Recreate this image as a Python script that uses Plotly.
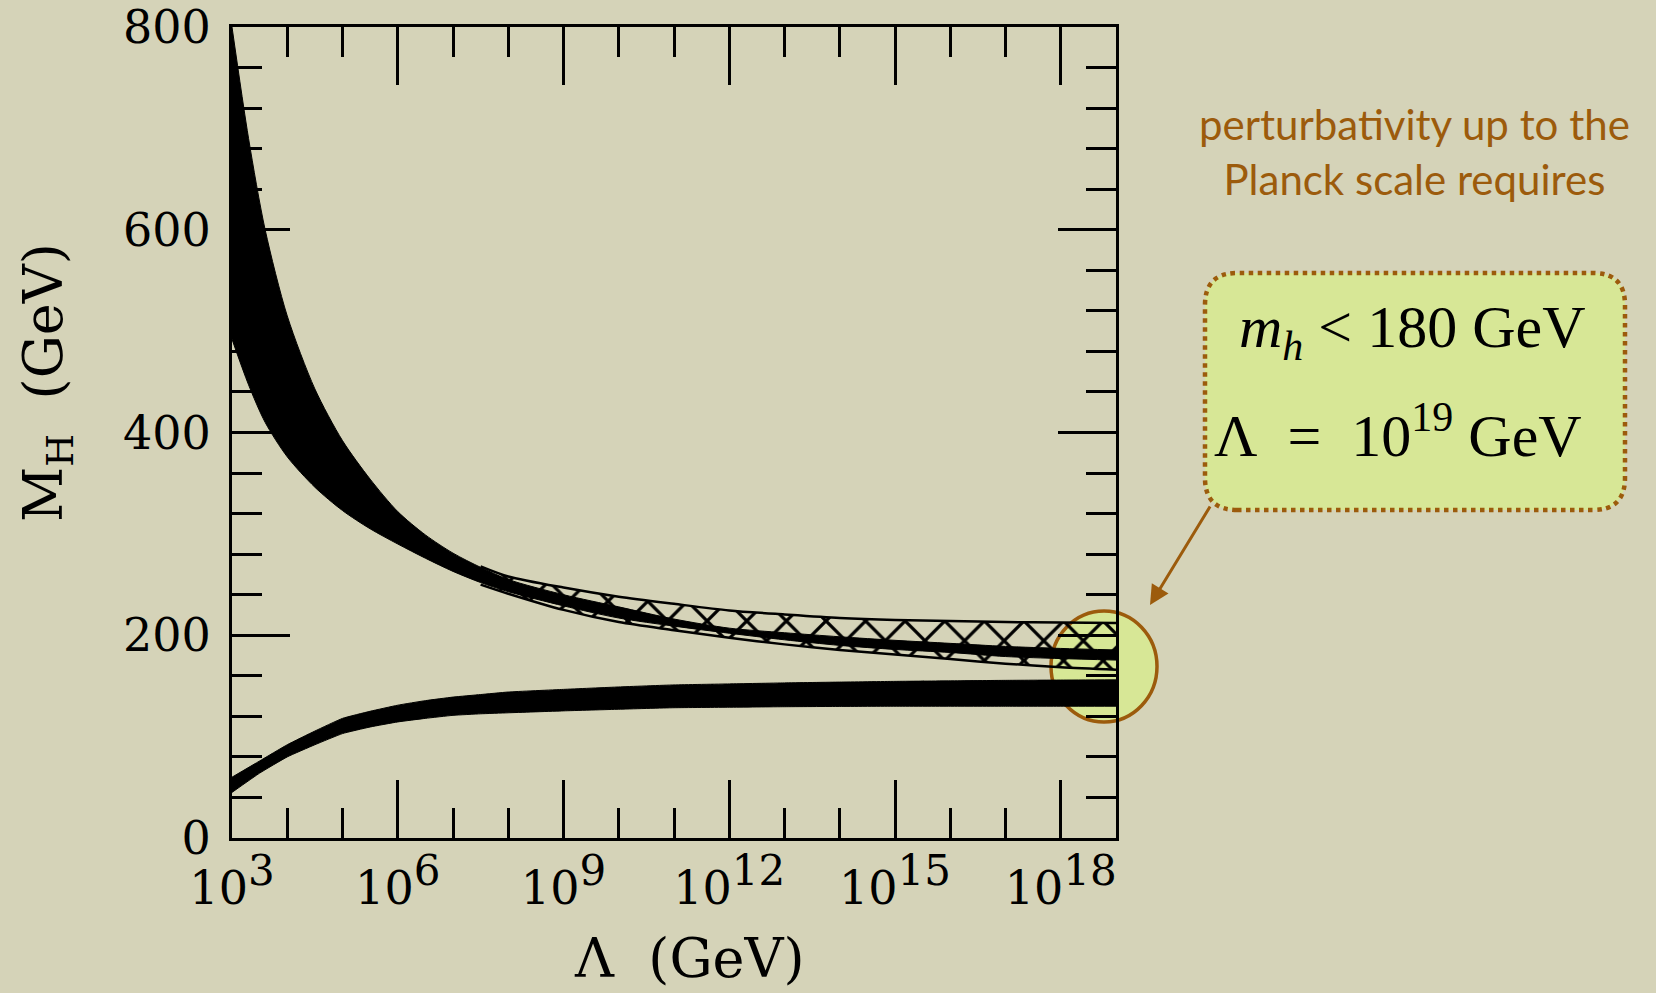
import plotly.graph_objects as go

# ---------------- data ----------------
# log10(Lambda / GeV) grid for the upper (triviality) band
up_exp = [3, 3.3, 3.6, 4.0, 4.5, 5.0, 5.5, 6.0, 6.5, 7.0, 7.5, 8.0, 9.0, 10, 11, 12, 13, 14, 15, 16, 17, 18, 19]
up_top = [800, 690, 600, 515, 443, 392, 354, 322, 299, 281, 267, 255, 240, 228, 216, 207, 202.5, 198.5, 195, 192, 189, 187, 185.5]
up_bot = [492, 447, 410, 376, 346, 323, 305, 290, 276, 263, 252, 243, 229, 217, 209, 202, 195.5, 190, 186, 183, 179, 177, 175.5]

# cross-hatched band around the upper bound
hatch_exp = [7.5, 8.0, 9.0, 10, 11, 12, 13, 14, 15, 16, 17, 18, 19]
hatch_top = [268, 258, 247, 238, 231, 224.5, 220.5, 217, 215, 214, 213, 212.5, 212]
hatch_bot = [250, 241, 225, 213, 205, 197.5, 191, 185.5, 181, 176.5, 172, 168.5, 166]

# lower (vacuum stability) band
lo_exp = [3, 3.5, 4.0, 4.5, 5.0, 5.5, 6.0, 6.5, 7.0, 7.5, 8.0, 9.0, 10, 11, 12, 13, 14, 15, 16, 17, 18, 19]
lo_top = [60, 76, 92, 105.5, 118, 125, 131, 135.5, 139, 141.5, 144, 146.6, 149, 151, 152, 153, 153.8, 154.5, 155, 155.5, 155.8, 156]
lo_bot = [45, 64, 80, 92, 103, 109.5, 114.5, 118, 121, 122.5, 123.5, 125.4, 127, 128.5, 129, 129.5, 129.8, 130, 130, 130, 130, 130]

major_exp = [3, 6, 9, 12, 15, 18]
minor_exp = [4, 5, 7, 8, 10, 11, 13, 14, 16, 17]
y_major = [0, 200, 400, 600, 800]

# ---------------- styling ----------------
BG = "#d5d3b8"
GREEN = "#d7e796"
BROWN = "#9c5b0c"
AXFONT = "DejaVu Serif"

def lam(e):
    return [10 ** v for v in e]

fig = go.Figure()

# hatched band (top line, then bottom line filled to it)
fig.add_trace(go.Scatter(x=lam(hatch_exp), y=hatch_top, mode="lines", line=dict(color="black", width=2.5, shape="spline", smoothing=0.8), hoverinfo="skip"))
fig.add_trace(go.Scatter(x=lam(hatch_exp), y=hatch_bot, mode="lines", line=dict(color="black", width=2.5, shape="spline", smoothing=0.8),
                         fill="tonexty", fillcolor="rgba(0,0,0,0)",
                         fillpattern=dict(shape="x", size=28, solidity=0.22, fgcolor="black", fgopacity=1, bgcolor="rgba(0,0,0,0)"),
                         hoverinfo="skip"))

# upper solid band
fig.add_trace(go.Scatter(x=lam(up_exp), y=up_top, mode="lines", line=dict(color="black", width=1, shape="spline", smoothing=0.8), hoverinfo="skip"))
fig.add_trace(go.Scatter(x=lam(up_exp), y=up_bot, mode="lines", line=dict(color="black", width=1, shape="spline", smoothing=0.8),
                         fill="tonexty", fillcolor="black", hoverinfo="skip"))

# lower solid band
fig.add_trace(go.Scatter(x=lam(lo_exp), y=lo_top, mode="lines", line=dict(color="black", width=1, shape="spline", smoothing=0.4), hoverinfo="skip"))
fig.add_trace(go.Scatter(x=lam(lo_exp), y=lo_bot, mode="lines", line=dict(color="black", width=1, shape="spline", smoothing=0.4),
                         fill="tonexty", fillcolor="black", hoverinfo="skip"))

# ---------------- axes ----------------
L, R, T, B = 232, 540, 27, 155
W, H = 1656, 993
PW, PH = W - L - R, H - T - B

def px(x):
    return (x - L) / PW

def py(y):
    return (H - B - y) / PH

xticktext = ["10<sup><span style='font-size:42px'>%d</span></sup>" % e for e in major_exp]

fig.update_xaxes(type="log", range=[3, 19], tickmode="array", tickvals=lam(major_exp), ticktext=xticktext,
                 ticks="inside", ticklen=58, tickwidth=3, tickcolor="black",
                 showline=True, linewidth=3, linecolor="black", mirror="ticks",
                 showgrid=False, zeroline=False, ticklabelstandoff=8, automargin=False,
                 minor=dict(tickmode="array", tickvals=lam(minor_exp), ticks="inside", ticklen=30, tickwidth=3, tickcolor="black", showgrid=False),
                 tickfont=dict(family=AXFONT, size=46, color="black"))
fig.update_yaxes(range=[0, 800], tickmode="array", tickvals=y_major,
                 ticks="inside", ticklen=58, tickwidth=3, tickcolor="black",
                 showline=True, linewidth=3, linecolor="black", mirror="ticks",
                 showgrid=False, zeroline=False, ticklabelstandoff=9, automargin=False,
                 minor=dict(dtick=40, ticks="inside", ticklen=30, tickwidth=3, tickcolor="black", showgrid=False),
                 tickfont=dict(family=AXFONT, size=46, color="black"))

# ---------------- decorations ----------------
shapes = []
# highlight circle at Lambda ~ 1e19
shapes.append(dict(type="circle", xref="paper", yref="paper", layer="below",
                   x0=px(1051), x1=px(1157), y0=py(722), y1=py(611),
                   line=dict(color=BROWN, width=3.5), fillcolor=GREEN))
# rounded dotted box
bx0, bx1, by0, by1, r = 1205, 1625, 273, 510, 32
rx, ry = r / PW, r / PH
X0, X1, Y0, Y1 = px(bx0), px(bx1), py(by1), py(by0)
path = (f"M {X0+rx},{Y0} L {X1-rx},{Y0} Q {X1},{Y0} {X1},{Y0+ry} "
        f"L {X1},{Y1-ry} Q {X1},{Y1} {X1-rx},{Y1} L {X0+rx},{Y1} "
        f"Q {X0},{Y1} {X0},{Y1-ry} L {X0},{Y0+ry} Q {X0},{Y0} {X0+rx},{Y0} Z")
shapes.append(dict(type="path", xref="paper", yref="paper", layer="below", path=path,
                   line=dict(color=BROWN, width=4.5, dash="dot"), fillcolor=GREEN))

annotations = [
    dict(xref="paper", yref="paper", x=px(47), y=py(383), textangle=-90, showarrow=False,
         text="M<sub>H</sub>  (GeV)", font=dict(family=AXFONT, size=54, color="black"),
         xanchor="center", yanchor="middle"),
    dict(xref="paper", yref="paper", x=px(689), y=py(958), showarrow=False,
         text="Λ  (GeV)", font=dict(family=AXFONT, size=54, color="black"),
         xanchor="center", yanchor="middle"),
    dict(xref="paper", yref="paper", x=px(1414), y=py(151), showarrow=False,
         text="perturbativity up to the<br>Planck scale requires",
         font=dict(family="Lato", size=42, color=BROWN), xanchor="center", yanchor="middle"),
    dict(xref="paper", yref="paper", x=px(1412), y=py(331), showarrow=False,
         text="<i>m</i><sub><i>h</i></sub>&nbsp;&lt;&nbsp;180&nbsp;GeV",
         font=dict(family="Liberation Serif", size=60, color="black"), xanchor="center", yanchor="middle"),
    dict(xref="paper", yref="paper", x=px(1398), y=py(431), showarrow=False,
         text="Λ&nbsp;&nbsp;=&nbsp;&nbsp;10<sup>19</sup>&nbsp;GeV",
         font=dict(family="Liberation Serif", size=60, color="black"), xanchor="center", yanchor="middle"),
    dict(xref="paper", yref="paper", x=px(1150), y=py(605), ax=61, ay=-100, axref="pixel", ayref="pixel",
         showarrow=True, arrowhead=2, arrowsize=1.3, arrowwidth=3, arrowcolor=BROWN, text=""),
]

fig.update_layout(width=W, height=H, margin=dict(l=L, r=R, t=T, b=B, pad=0, autoexpand=False),
                  paper_bgcolor=BG, plot_bgcolor="rgba(0,0,0,0)", showlegend=False,
                  shapes=shapes, annotations=annotations)

fig.write_html("out.html")
